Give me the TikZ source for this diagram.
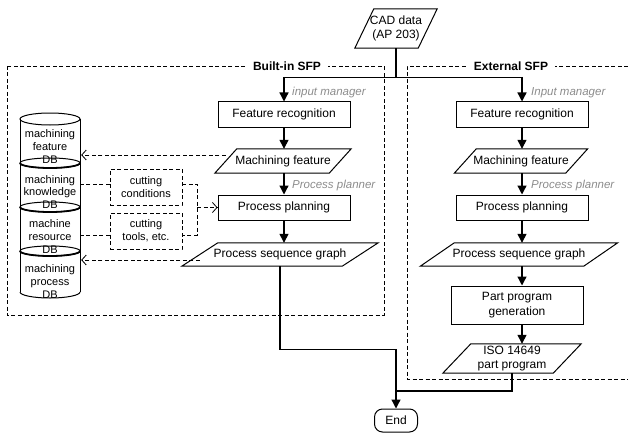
\documentclass[tikz,border=0pt]{standalone}
\usepackage{fontspec}
\setmainfont{Liberation Sans}
\usetikzlibrary{arrows.meta,calc}
\newcommand\flowfont{\fontsize{12}{14.5}\selectfont}
\newcommand\dbfont{\fontsize{11}{12.8}\selectfont}
\newcommand\lblfont{\fontsize{11.5}{13}\selectfont\itshape}
\newcommand\pgram[2]{\draw[line width=1pt] ([xshift=#2pt]#1.north west) -- ([xshift=#2pt]#1.north east) -- ([xshift=-#2pt]#1.south east) -- ([xshift=-#2pt]#1.south west) -- cycle;}
\begin{document}
\begin{tikzpicture}[x=1pt,y=-1pt,
  box/.style={draw, line width=1pt, minimum height=25pt, minimum width=132pt, inner sep=0pt, font=\flowfont, align=center},
  io/.style={inner sep=0pt, font=\flowfont, align=center},
  lbl/.style={font=\lblfont, text=black!45, anchor=west, inner sep=0pt},
  arr/.style={line width=1.3pt, -{Triangle[length=9pt,width=9pt]}},
  ln/.style={line width=1.3pt},
  dsh/.style={dash pattern=on 4pt off 2.5pt, line width=0.8pt},
  darr/.style={dsh, -{Straight Barb[length=4.5pt,width=10pt]}},
  dbtext/.style={inner sep=0pt, minimum width=62pt, font=\dbfont, align=center},
  dbox/.style={draw, dsh, minimum width=72pt, minimum height=36pt, inner sep=0pt, font=\dbfont, align=center},
  title/.style={fill=white, font=\flowfont\bfseries, inner xsep=7pt, inner ysep=1pt}
]
\useasboundingbox (0,0) rectangle (628,433);

% dashed frames
\draw[dsh] (7,66) rectangle (384,315);
\draw[dsh] (628,66) -| (407,379) -- (628,379);
\node[title] (t1) at (287,66) {Built-in SFP};
\node[title] (t2) at (511,66) {External SFP};

% CAD data
\node[io, minimum width=63pt, minimum height=39pt] (CAD) at (396,28.5) {CAD data\\(AP 203)};
\pgram{CAD}{9.5}
\coordinate (j) at (396,77);
\coordinate (jL) at (284,77);
\coordinate (jR) at (522,77);

% built-in column
\node[box] (FR1) at (284,114.5) {Feature recognition};
\node[io, minimum width=114pt, minimum height=24pt] (MF1) at (283,161) {Machining feature};
\pgram{MF1}{11}
\node[box] (PP1) at (284,207.5) {Process planning};
\node[io, minimum width=160pt, minimum height=23pt] (PSG1) at (280,254.5) {Process sequence graph};
\pgram{PSG1}{18}

% external column
\node[box] (FR2) at (522,114.5) {Feature recognition};
\node[io, minimum width=111pt, minimum height=24pt] (MF2) at (521,161) {Machining feature};
\pgram{MF2}{11}
\node[box] (PP2) at (522,207.5) {Process planning};
\node[io, minimum width=163pt, minimum height=23pt] (PSG2) at (519,254.5) {Process sequence graph};
\pgram{PSG2}{17}
\node[box, minimum height=38pt] (PPG) at (517,305) {Part program\\generation};
\node[io, minimum width=110pt, minimum height=29pt] (ISO) at (512,358.5) {ISO 14649\\part program};
\pgram{ISO}{14}

% End
\node[draw, line width=1pt, rounded corners=8pt, minimum width=43pt, minimum height=23pt, inner sep=0pt, font=\flowfont] (End) at (396,420.5) {End};
\coordinate (m) at (396,391);

% labels
\node[lbl] (l1) at (292,93) {input manager};
\node[lbl] (l2) at (292,186) {Process planner};
\node[lbl] (l3) at (531,93) {Input manager};
\node[lbl] (l4) at (531,186) {Process planner};

% solid connectors
\draw[ln] (CAD.south) -- (j);
\draw[line width=0.8pt] (jL) -- (jR);
\draw[arr] (jL) -- (FR1.north);
\draw[arr] (jR) -- (FR2.north);
\draw[arr] (FR1.south) -- (FR1.south |- MF1.north);
\draw[arr] (FR1.south |- MF1.south) -- (PP1.north);
\draw[arr] (PP1.south) -- (PP1.south |- PSG1.north);
\draw[arr] (FR2.south) -- (FR2.south |- MF2.north);
\draw[arr] (FR2.south |- MF2.south) -- (PP2.north);
\draw[arr] (PP2.south) -- (PP2.south |- PSG2.north);
\draw[arr] (PP2.south |- PSG2.south) -- (PP2.south |- PPG.north);
\draw[arr] (PP2.south |- PPG.south) -- (PP2.south |- ISO.north);
\draw[arr] (PSG1.south) -- ++(0,83.5) -| (End.north);
\draw[ln] (ISO.south) |- (m);

% databases
\draw[line width=1pt] (20,119) -- (20,292);
\draw[line width=1pt] (80,119) -- (80,292);
\draw[line width=1pt] (50,119) ellipse [x radius=30pt, y radius=6pt];
\foreach \yy in {163,207,251}{
  \draw[line width=1pt] (50,\yy) ellipse [x radius=30pt, y radius=5pt];
  \draw[line width=1.8pt] (20,\yy) arc [start angle=180, end angle=360, x radius=30pt, y radius=5pt];
}
\draw[line width=1pt] (20,292) arc [start angle=180, end angle=360, x radius=30pt, y radius=6pt];
\node[dbtext] (db1) at (50,146.5) {machining\\feature\\DB};
\node[dbtext] (db2) at (50,192) {machining\\knowledge\\DB};
\node[dbtext] (db3) at (50,236.5) {machine\\resource\\DB};
\node[dbtext] (db4) at (50,281.5) {machining\\process\\DB};

% cutting boxes
\node[dbox] (cc) at (146,187) {cutting\\conditions};
\node[dbox] (ct) at (146,231) {cutting\\tools, etc.};
\coordinate (k) at (197,207.5);
\draw[dsh] ([yshift=3pt]cc.west) -- ([yshift=3pt]cc.west -| db2.east);
\draw[dsh] ([yshift=-4pt]ct.west) -- ([yshift=-4pt]ct.west -| db3.east);
\draw[dsh] ([yshift=3pt]cc.east) -| (k) |- ([yshift=-4pt]ct.east);
\draw[darr] (k) -- (PP1.west);

% dashed arrows to databases
\draw[darr] ([yshift=6pt]MF1.west) -- ([yshift=6pt]MF1.west -| db1.east);
\draw[darr] ([yshift=-5.5pt]PSG1.west) -- ([yshift=-5.5pt]PSG1.west -| db4.east);
\end{tikzpicture}
\end{document}
